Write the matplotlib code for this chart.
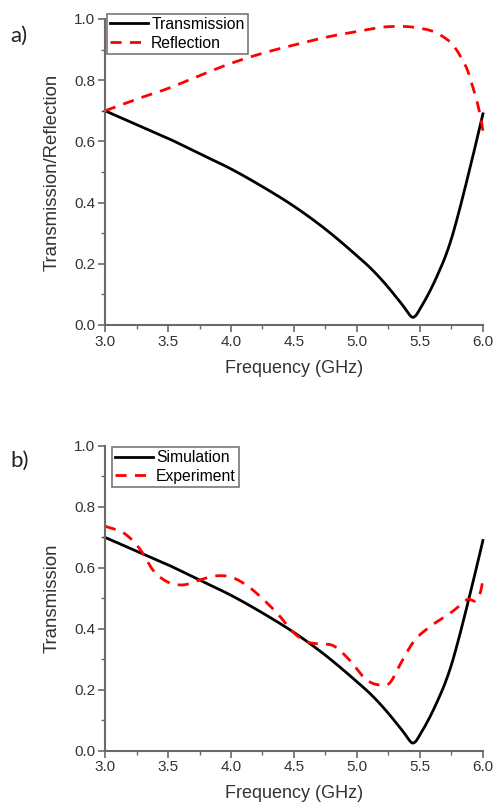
import matplotlib
matplotlib.use("Agg")
import matplotlib.pyplot as plt
import numpy as np
from matplotlib.ticker import MultipleLocator, FormatStrFormatter

plt.rcParams['font.family'] = ['Liberation Sans', 'DejaVu Sans']

# Transmission (simulation) curve
freq_t = [3.0, 3.25, 3.5, 3.75, 4.0, 4.25, 4.5, 4.75, 5.0, 5.1, 5.2, 5.3, 5.38, 5.42, 5.44, 5.46, 5.5, 5.55, 5.6, 5.65, 5.7, 5.75, 5.8, 5.85, 5.9, 5.95, 6.0]
trans = [0.70, 0.655, 0.61, 0.56, 0.51, 0.452, 0.388, 0.313, 0.226, 0.189, 0.146, 0.097, 0.055, 0.032, 0.025, 0.028, 0.052, 0.088, 0.128, 0.173, 0.222, 0.282, 0.355, 0.435, 0.518, 0.603, 0.69]

# Reflection curve
freq_r = [3.0, 3.25, 3.5, 3.75, 4.0, 4.25, 4.5, 4.75, 5.0, 5.25, 5.5, 5.606, 5.68, 5.751, 5.80, 5.844, 5.88, 5.91, 5.94, 5.963, 5.99, 6.0]
refl = [0.70, 0.738, 0.773, 0.815, 0.855, 0.888, 0.915, 0.94, 0.959, 0.975, 0.97, 0.959, 0.943, 0.92, 0.893, 0.861, 0.83, 0.79, 0.75, 0.713, 0.66, 0.635]

# Experiment curve
freq_e = [3.0, 3.17, 3.28, 3.38, 3.49, 3.62, 3.75, 3.89, 3.99, 4.12, 4.26, 4.39, 4.49, 4.60, 4.70, 4.81, 4.94, 5.077, 5.17, 5.26, 5.34, 5.45, 5.58, 5.74, 5.87, 5.99, 6.0]
exper = [0.737, 0.708, 0.66, 0.593, 0.555, 0.544, 0.56, 0.574, 0.571, 0.544, 0.495, 0.44, 0.39, 0.358, 0.35, 0.345, 0.298, 0.232, 0.216, 0.222, 0.281, 0.358, 0.407, 0.451, 0.495, 0.538, 0.56]


def smooth(x, y, n=500):
    x = np.asarray(x, float)
    y = np.asarray(y, float)
    xs = np.linspace(x[0], x[-1], n)
    m = np.gradient(y, x)
    idx = np.clip(np.searchsorted(x, xs) - 1, 0, len(x) - 2)
    h = x[idx + 1] - x[idx]
    t = (xs - x[idx]) / h
    h00 = 2 * t**3 - 3 * t**2 + 1
    h10 = t**3 - 2 * t**2 + t
    h01 = -2 * t**3 + 3 * t**2
    h11 = t**3 - t**2
    ys = h00 * y[idx] + h10 * h * m[idx] + h01 * y[idx + 1] + h11 * h * m[idx + 1]
    return xs, ys


fig = plt.figure(figsize=(4.94, 8.05), dpi=100)
ax1 = fig.add_axes([0.2126, 0.5963, 0.765, 0.3801])
ax2 = fig.add_axes([0.2126, 0.0675, 0.765, 0.3785])

spine_c = '#6a6a6a'
text_c = '#333333'


def style(ax):
    ax.set_xlim(3.0, 6.0)
    ax.set_ylim(0.0, 1.0)
    for s in ['top', 'right']:
        ax.spines[s].set_visible(False)
    for s in ['left', 'bottom']:
        ax.spines[s].set_color(spine_c)
        ax.spines[s].set_linewidth(1.5)
    ax.xaxis.set_major_locator(MultipleLocator(0.5))
    ax.xaxis.set_minor_locator(MultipleLocator(0.25))
    ax.yaxis.set_major_locator(MultipleLocator(0.2))
    ax.yaxis.set_minor_locator(MultipleLocator(0.1))
    ax.tick_params(which='major', direction='out', length=5, width=1.2, color=spine_c,
                   labelsize=11, labelcolor=text_c, pad=2)
    ax.tick_params(which='minor', direction='out', length=3, width=1.0, color=spine_c)
    ax.xaxis.set_major_formatter(FormatStrFormatter('%.1f'))
    ax.yaxis.set_major_formatter(FormatStrFormatter('%.1f'))
    ax.set_xlabel('Frequency (GHz)', fontsize=13, color=text_c, labelpad=8)


xs, ys = smooth(freq_t, trans)
xr, yr = smooth(freq_r, refl)
xe, ye = smooth(freq_e, exper)

dash = (0, (4, 3))
leg_kw = dict(loc='upper left', fontsize=11.3, frameon=True, fancybox=False,
              edgecolor='#555555', handlelength=2.4, borderpad=0.2,
              labelspacing=0.25, handletextpad=0.2, borderaxespad=0.0)

ax1.plot(xs, ys, color='black', lw=2, label='Transmission', clip_on=False)
ax1.plot(xr, yr, color='#ff0000', lw=2, ls=dash, label='Reflection', clip_on=False)
style(ax1)
ax1.set_ylabel('Transmission/Reflection', fontsize=13.4, color=text_c, labelpad=10)
leg1 = ax1.legend(bbox_to_anchor=(0.006, 1.017), **leg_kw)
leg1.get_frame().set_linewidth(1.2)

ax2.plot(xs, ys, color='black', lw=2, label='Simulation', clip_on=False)
ax2.plot(xe, ye, color='#ff0000', lw=2, ls=dash, label='Experiment', clip_on=False)
style(ax2)
ax2.set_ylabel('Transmission', fontsize=13.4, color=text_c, labelpad=10)
leg2 = ax2.legend(bbox_to_anchor=(0.018, 0.997), **leg_kw)
leg2.get_frame().set_linewidth(1.2)

fig.text(0.02, 0.955, 'a)', fontsize=16, family='Lato', color='#222222', va='center')
fig.text(0.02, 0.428, 'b)', fontsize=16, family='Lato', color='#222222', va='center')

fig.savefig('out.png', dpi=100)
